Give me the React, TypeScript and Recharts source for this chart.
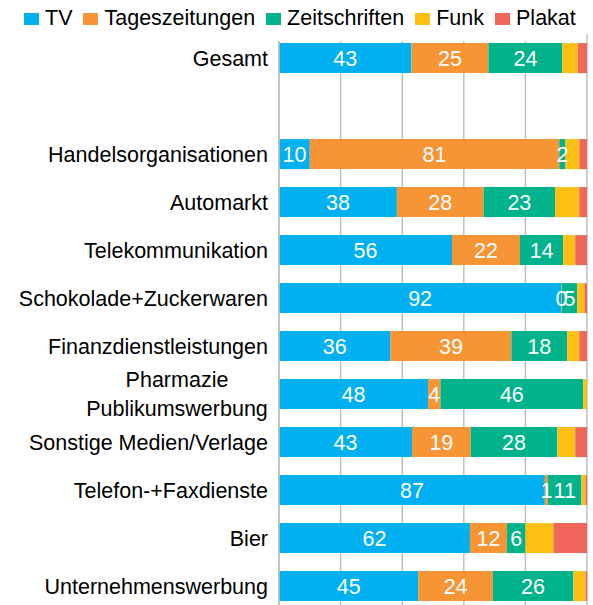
import React from "react";
import {
  Bar,
  BarChart,
  CartesianGrid,
  LabelList,
  Legend,
  XAxis,
  YAxis,
} from "recharts";

const CATEGORIES = [
  "Gesamt",
  "",
  "Handelsorganisationen",
  "Automarkt",
  "Telekommunikation",
  "Schokolade+Zuckerwaren",
  "Finanzdienstleistungen",
  "Pharmazie\nPublikumswerbung",
  "Sonstige Medien/Verlage",
  "Telefon-+Faxdienste",
  "Bier",
  "Unternehmenswerbung",
];

const TV = [43, null, 10, 38, 56, 92, 36, 48, 43, 87, 62, 45];
const TAGESZEITUNGEN = [25, null, 81, 28, 22, 0.2, 39, 4, 19, 1, 12, 24];
const ZEITSCHRIFTEN = [24, null, 2, 23, 14, 5, 18, 46, 28, 11, 6, 26];
const FUNK = [5, null, 4.5, 7.8, 3.9, 2.4, 3.9, 1.2, 5.8, 1.3, 9.1, 3.9];
const PLAKAT = [3, null, 2.5, 2.5, 3.8, 0.8, 2.5, 0, 3.8, 0.5, 10.9, 0.5];

const SERIES_NAMES = ["TV", "Tageszeitungen", "Zeitschriften", "Funk", "Plakat"];
const SERIES_KEYS = ["tv", "tages", "zeit", "funk", "plakat"];
const SERIES_COLORS = ["#00B0F0", "#F79433", "#00B38A", "#FDBF12", "#F0665A"];
const SERIES_LABELLED = [true, true, true, false, false];

const X_TICKS = [0, 0.2, 0.4, 0.6, 0.8, 1];

const FONT = '"Liberation Sans", Arial, sans-serif';
const FONT_SIZE = 21.5;

const chartData = CATEGORIES.map((name, i) => ({
  name,
  tv: TV[i],
  tages: TAGESZEITUNGEN[i],
  zeit: ZEITSCHRIFTEN[i],
  funk: FUNK[i],
  plakat: PLAKAT[i],
}));

const renderLabel = (props: any) => {
  const { x, y, width, height, value } = props;
  if (value === null || value === undefined) return null;
  return (
    <text
      x={Number(x) + Number(width) / 2}
      y={Number(y) + Number(height) / 2}
      dy="0.35em"
      textAnchor="middle"
      fill="#ffffff"
      fontSize={FONT_SIZE}
      fontFamily={FONT}
    >
      {Math.round(Number(value))}
    </text>
  );
};

const CategoryTick = (props: any) => {
  const { x, y, payload } = props;
  const lines = String(payload.value).split("\n");

  if (lines.length === 1) {
    return (
      <text
        x={x}
        y={y}
        dy="0.35em"
        textAnchor="end"
        fill="#000000"
        fontSize={FONT_SIZE}
        fontFamily={FONT}
      >
        {lines[0]}
      </text>
    );
  }

  // two-line label: block right aligned, lines centred on each other
  const cx = x - 91;
  return (
    <text
      textAnchor="middle"
      fill="#000000"
      fontSize={FONT_SIZE}
      fontFamily={FONT}
    >
      <tspan x={cx} y={y - 15} dy="0.35em">
        {lines[0]}
      </tspan>
      <tspan x={cx} y={y + 14.5} dy="0.35em">
        {lines[1]}
      </tspan>
    </text>
  );
};

const renderLegend = () => (
  <div
    style={{
      height: 41,
      boxSizing: "border-box",
      paddingTop: 5,
      paddingLeft: 9,
      background: "#ffffff",
      fontFamily: FONT,
      fontSize: FONT_SIZE,
      lineHeight: "26px",
      color: "#000000",
      whiteSpace: "nowrap",
    }}
  >
    {SERIES_NAMES.map((name, i) => (
      <span key={name} style={{ marginRight: 11 }}>
        <span
          style={{
            display: "inline-block",
            width: 15,
            height: 12.5,
            marginRight: 6,
            background: SERIES_COLORS[i],
          }}
        />
        {name}
      </span>
    ))}
  </div>
);

export default function App() {
  return (
    <div
      style={{
        position: "absolute",
        top: 0,
        left: 0,
        width: 593,
        height: 605,
        overflow: "hidden",
        background: "#ffffff",
      }}
    >
      <BarChart
        width={593}
        height={620}
        data={chartData}
        layout="vertical"
        stackOffset="expand"
        barCategoryGap="19%"
        margin={{ top: 34, right: 6, left: 0, bottom: 10 }}
      >
        <CartesianGrid
          horizontal={false}
          stroke="#bfbfbf"
          strokeWidth={1.5}
        />
        <XAxis type="number" hide ticks={X_TICKS} domain={[0, 1]} />
        <YAxis
          type="category"
          dataKey="name"
          width={279}
          interval={0}
          tickLine={false}
          tickSize={0}
          tickMargin={11}
          axisLine={{ stroke: "#bfbfbf", strokeWidth: 1.5 }}
          tick={<CategoryTick />}
        />
        <Legend
          layout="horizontal"
          verticalAlign="middle"
          align="center"
          content={renderLegend}
          wrapperStyle={{ top: 0, left: 15, width: 567, height: 41 }}
        />
        {SERIES_KEYS.map((key, i) => (
          <Bar
            key={key}
            dataKey={key}
            name={SERIES_NAMES[i]}
            stackId="media"
            fill={SERIES_COLORS[i]}
            isAnimationActive={false}
          >
            {SERIES_LABELLED[i] ? (
              <LabelList dataKey={key} content={renderLabel} />
            ) : null}
          </Bar>
        ))}
      </BarChart>
    </div>
  );
}
